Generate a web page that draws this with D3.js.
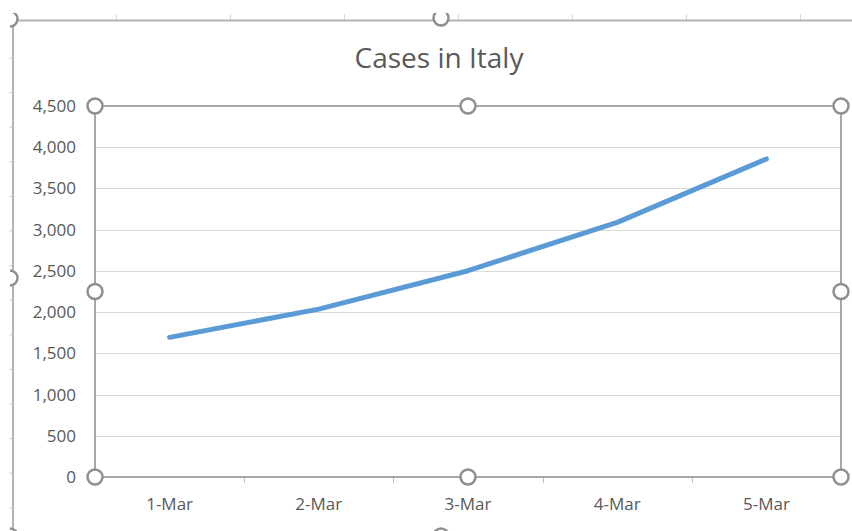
<!DOCTYPE html>
<html>
<head>
<meta charset="utf-8">
<script src="https://cdn.jsdelivr.net/npm/d3@7"></script>
<style>
  html, body { margin: 0; padding: 0; background: #fff; }
  svg { display: block; }
  text { font-family: "Open Sans", "Noto Sans", sans-serif; fill: #595959; }
</style>
</head>
<body>
<script>
// Daily cumulative cases, early March
const categories = ["1-Mar", "2-Mar", "3-Mar", "4-Mar", "5-Mar"];
const cases = [1694, 2036, 2502, 3089, 3858];
const yTicks = [0, 500, 1000, 1500, 2000, 2500, 3000, 3500, 4000, 4500];
const chartTitle = "Cases in Italy";

const W = 852, H = 531;
const plot = { left: 95, right: 841, top: 106, bottom: 477 };

const svg = d3.select("body").append("svg")
  .attr("width", W).attr("height", H);

const x = d3.scaleBand().domain(categories).range([plot.left, plot.right]).paddingInner(0).paddingOuter(0);
const y = d3.scaleLinear().domain([0, 4500]).range([plot.bottom, plot.top]);

// Sheet cell marks visible around the chart frame
const sheet = svg.append("g").attr("stroke", "#d6d6d6").attr("stroke-width", 1);
d3.range(116, W, 114).forEach(px => {
  sheet.append("line").attr("x1", px + 0.5).attr("x2", px + 0.5).attr("y1", 14).attr("y2", 20);
});
d3.range(58, H, 34.6).forEach(py => {
  sheet.append("line").attr("x1", 9).attr("x2", 12).attr("y1", py).attr("y2", py);
});

// Chart area frame (top and left edges)
svg.append("path")
  .attr("d", `M13,${H} L13,20.5 L${W},20.5`)
  .attr("fill", "none").attr("stroke", "#b3b3b3").attr("stroke-width", 2);

// Title
svg.append("text")
  .attr("x", 439).attr("y", 68)
  .attr("text-anchor", "middle")
  .style("font-size", "28px")
  .text(chartTitle);

// Horizontal gridlines
svg.append("g").selectAll("line")
  .data(yTicks.filter(t => t > 0 && t < 4500))
  .join("line")
  .attr("x1", plot.left).attr("x2", plot.right)
  .attr("y1", d => Math.round(y(d)) + 0.5).attr("y2", d => Math.round(y(d)) + 0.5)
  .attr("stroke", "#d9d9d9").attr("stroke-width", 1);

// Y axis labels
const yAxis = d3.axisLeft(y).tickValues(yTicks).tickFormat(d3.format(",")).tickSize(0).tickPadding(19);
const gy = svg.append("g").attr("transform", `translate(${plot.left},0)`).call(yAxis);
gy.select(".domain").remove();
gy.selectAll("text").style("font-size", "17px").attr("fill", "#595959")
  .style("font-family", "\"Open Sans\", sans-serif");

// X axis with category boundary ticks
const xAxis = d3.axisBottom(x).tickSize(0).tickPadding(21);
const gx = svg.append("g").attr("transform", `translate(0,${plot.bottom})`).call(xAxis);
gx.select(".domain").remove();
gx.selectAll("text").style("font-size", "17px").attr("fill", "#595959")
  .style("font-family", "\"Open Sans\", sans-serif");
const bounds = categories.map(c => x(c)).concat([x.range()[1]]);
svg.append("g").selectAll("line")
  .data(bounds)
  .join("line")
  .attr("x1", d => Math.round(d) + 0.5).attr("x2", d => Math.round(d) + 0.5)
  .attr("y1", plot.bottom).attr("y2", plot.bottom + 6)
  .attr("stroke", "#bfbfbf").attr("stroke-width", 1);

// Selected plot area outline
svg.append("rect")
  .attr("x", plot.left).attr("y", plot.top)
  .attr("width", plot.right - plot.left).attr("height", plot.bottom - plot.top)
  .attr("fill", "none").attr("stroke", "#a6a6a6").attr("stroke-width", 2);

// Series line
const line = d3.line()
  .x((d, i) => x(categories[i]) + x.bandwidth() / 2)
  .y(d => y(d));
svg.append("path")
  .datum(cases)
  .attr("d", line)
  .attr("fill", "none")
  .attr("stroke", "#5b9bd5")
  .attr("stroke-width", 5)
  .attr("stroke-linecap", "round")
  .attr("stroke-linejoin", "round");

// Selection handles
const handleStyle = sel => sel
  .attr("r", 7.5).attr("fill", "#fff")
  .attr("stroke", "#8f8f8f").attr("stroke-width", 2.5);

const xm = (plot.left + plot.right) / 2;
const ym = (plot.top + plot.bottom) / 2;
const plotHandles = [
  [plot.left, plot.top], [xm, plot.top], [plot.right, plot.top],
  [plot.left, ym], [plot.right, ym],
  [plot.left, plot.bottom], [xm, plot.bottom], [plot.right, plot.bottom]
];
svg.append("g").selectAll("circle").data(plotHandles).join("circle")
  .attr("cx", d => d[0]).attr("cy", d => d[1]).call(handleStyle);

// Chart area handles, partly outside the visible region
svg.append("clipPath").attr("id", "areaClip")
  .append("rect").attr("x", 10).attr("y", 13).attr("width", W).attr("height", H);
const chartHandles = [[10, 19], [441, 18], [10, 278], [10, 536], [441, 536]];
svg.append("g").attr("clip-path", "url(#areaClip)")
  .selectAll("circle").data(chartHandles).join("circle")
  .attr("cx", d => d[0]).attr("cy", d => d[1]).call(handleStyle);
</script>
</body>
</html>
